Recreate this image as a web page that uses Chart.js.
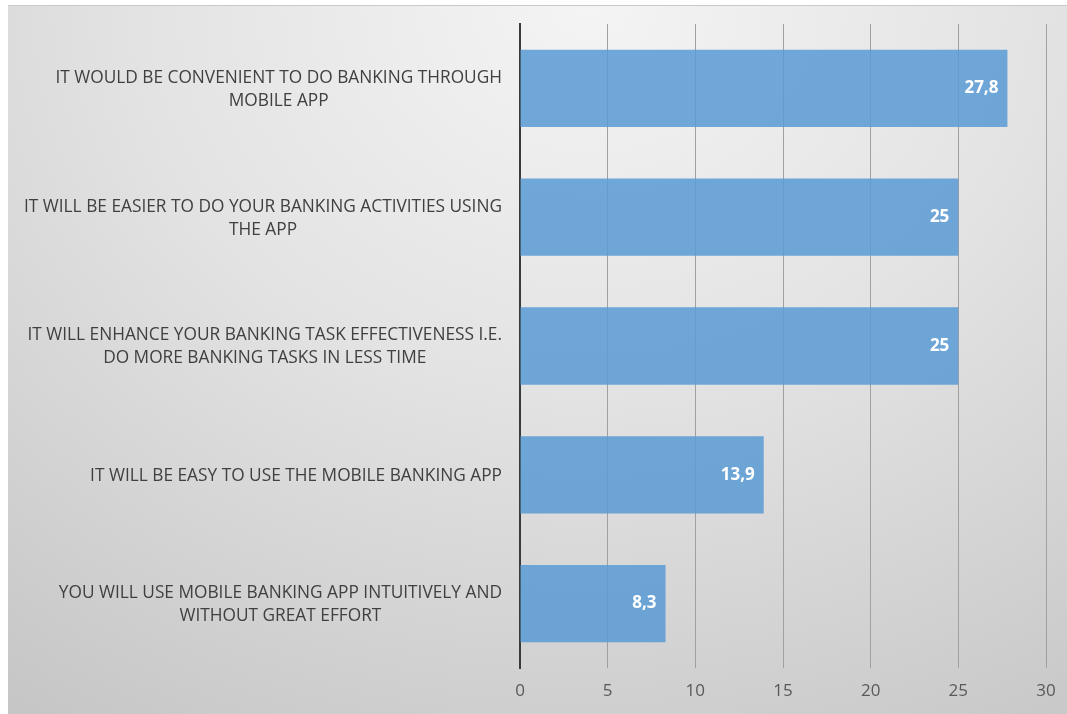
<!DOCTYPE html>
<html>
<head>
<meta charset="utf-8">
<script src="https://cdn.jsdelivr.net/npm/chart.js@4/dist/chart.umd.min.js"></script>
<style>
  html, body { margin: 0; padding: 0; background: #ffffff; }
  #frame {
    position: absolute; left: 8px; top: 5px; width: 1059px; height: 709px;
    border-top: 1px solid #c9c9c9;
    background: radial-gradient(ellipse 95% 120% at 55% 0%, #f4f4f4 0%, #e3e3e3 45%, #c6c6c6 100%);
  }
  #wrap { position: absolute; left: 0; top: 0; width: 1067px; height: 714px; }
</style>
</head>
<body>
<div id="frame"></div>
<div id="wrap"><canvas id="chart" width="1067" height="714"></canvas></div>
<script>
// Survey statements (each entry is the list of lines shown beside its bar)
const statements = [
  ["IT WOULD BE CONVENIENT TO DO BANKING THROUGH", "MOBILE APP"],
  ["IT WILL BE EASIER TO DO YOUR BANKING ACTIVITIES USING", "THE APP"],
  ["IT WILL ENHANCE YOUR BANKING TASK EFFECTIVENESS I.E.", "DO MORE BANKING TASKS IN LESS TIME"],
  ["IT WILL BE EASY TO USE THE MOBILE BANKING APP"],
  ["YOU WILL USE MOBILE BANKING APP INTUITIVELY AND", "WITHOUT GREAT EFFORT"]
];
// Share of respondents (%)
const shares = [27.8, 25, 25, 13.9, 8.3];
// Value axis ticks
const axisMin = 0;
const axisMax = 30;
const axisStep = 5;

const FONT = "'Open Sans', 'Liberation Sans', sans-serif";

// Multi-line category labels: block right-aligned, lines centred inside the block
const categoryLabels = {
  id: 'categoryLabels',
  afterDraw(chart) {
    const ctx = chart.ctx;
    const scale = chart.scales.y;
    const rightEdge = scale.right - 18;
    const lineH = 23;
    ctx.save();
    ctx.font = '17.3px ' + FONT;
    ctx.fillStyle = '#404040';
    ctx.textBaseline = 'middle';
    ctx.textAlign = 'center';
    statements.forEach((lines, i) => {
      const yc = scale.getPixelForTick(i) + 1;
      const w = Math.max(...lines.map(l => ctx.measureText(l).width));
      const cx = rightEdge - w / 2;
      const y0 = yc - (lines.length - 1) * lineH / 2;
      lines.forEach((l, k) => ctx.fillText(l, cx, y0 + k * lineH));
    });
    ctx.restore();
  }
};

// Value labels inside the end of each bar
const valueLabels = {
  id: 'valueLabels',
  afterDatasetsDraw(chart) {
    const ctx = chart.ctx;
    const meta = chart.getDatasetMeta(0);
    ctx.save();
    ctx.font = 'bold 17px ' + FONT;
    ctx.fillStyle = '#ffffff';
    ctx.textAlign = 'right';
    ctx.textBaseline = 'middle';
    meta.data.forEach((bar, i) => {
      const txt = String(shares[i]).replace('.', ',');
      ctx.fillText(txt, bar.x - 9, bar.y);
    });
    ctx.restore();
  }
};

new Chart(document.getElementById('chart'), {
  type: 'bar',
  data: {
    labels: statements,
    datasets: [{
      data: shares,
      backgroundColor: 'rgba(91,155,213,0.86)',
      borderWidth: 0,
      categoryPercentage: 0.6,
      barPercentage: 1.0
    }]
  },
  options: {
    indexAxis: 'y',
    responsive: false,
    animation: false,
    devicePixelRatio: 1,
    layout: { padding: { top: 24, right: 21, bottom: 0, left: 0 } },
    plugins: { legend: { display: false }, tooltip: { enabled: false } },
    scales: {
      x: {
        min: axisMin,
        max: axisMax,
        ticks: {
          stepSize: axisStep,
          color: '#595959',
          font: { family: FONT, size: 17 },
          padding: 13
        },
        grid: { color: '#a0a0a0', lineWidth: 1, drawTicks: false },
        border: { display: false },
        afterFit(s) { s.height = 46; s.paddingLeft = 0; s.paddingRight = 0; }
      },
      y: {
        ticks: { display: false },
        grid: { display: false },
        border: { display: true, color: '#3a3a3a', width: 2 },
        afterFit(s) { s.width = 520; }
      }
    }
  },
  plugins: [categoryLabels, valueLabels]
});
</script>
</body>
</html>
